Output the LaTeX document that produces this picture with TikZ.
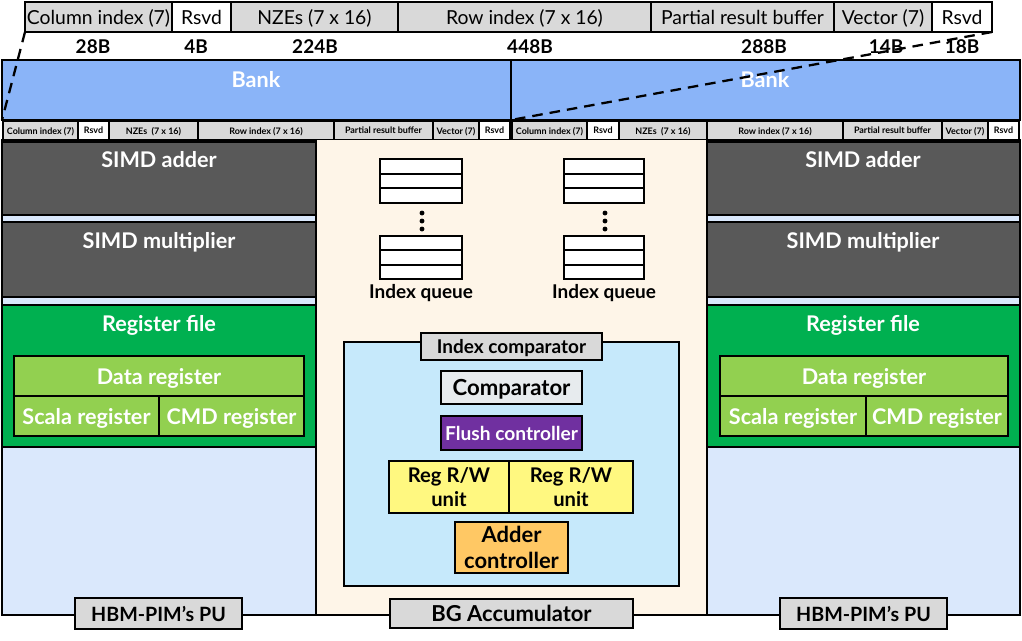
\documentclass[tikz,border=0pt]{standalone}
\usepackage{fontspec}
\setmainfont{Lato}

\definecolor{cellgray}{HTML}{D9D9D9}
\definecolor{bankblue}{HTML}{8AB4F8}
\definecolor{simdgray}{HTML}{595959}
\definecolor{publue}{HTML}{DAE8FC}
\definecolor{rfgreen}{HTML}{00B050}
\definecolor{reggreen}{HTML}{92D050}
\definecolor{accream}{HTML}{FEF5E8}
\definecolor{cmpblue}{HTML}{C6E9FB}
\definecolor{cmpgray}{HTML}{E7EBEE}
\definecolor{flushpurple}{HTML}{7030A0}
\definecolor{rwyellow}{HTML}{FFF880}
\definecolor{addorange}{HTML}{FFC864}

\tikzset{
  wh/.style 2 args = {minimum width={#1*0.02cm}, minimum height={#2*0.02cm}},
  box/.style = {draw=black, line width=1.1pt, inner sep=0pt, outer sep=0pt, anchor=north west, text depth=0pt},
  topcell/.style = {box, fill=cellgray, font=\fontsize{11}{13}\selectfont},
  smallcell/.style = {box, line width=0.8pt, fill=cellgray, font=\fontsize{5.1}{6}\selectfont\bfseries},
  bank/.style = {box, fill=bankblue},
  simd/.style = {box, fill=simdgray},
  whitetext/.style = {text=white, font=\fontsize{12.3}{14}\selectfont\bfseries},
  reg/.style = {box, fill=reggreen, text=white, font=\fontsize{12.3}{14}\selectfont\bfseries},
  lbl/.style = {box, fill=cellgray, font=\fontsize{11.2}{13}\selectfont\bfseries},
  darktext/.style = {font=\fontsize{10.8}{13}\selectfont\bfseries},
  inner/.style = {box, align=center, font=\fontsize{11.5}{14}\selectfont\bfseries},
  dashline/.style = {line width=1.3pt, dash pattern=on 6pt off 4pt}
}

\begin{document}
\begin{tikzpicture}[x=0.02cm, y=-0.02cm]
\useasboundingbox (0,0) rectangle (1022,640);

% record layout on top
\node[topcell, wh={147}{30}] (tcol) at (25,2) {Column index (7)};
\node[topcell, fill=white, wh={59}{30}] (trsvA) at (172,2) {Rsvd};
\node[topcell, wh={167}{30}] (tnze) at (231,2) {NZEs (7 x 16)};
\node[topcell, wh={253}{30}] (trow) at (398,2) {Row index (7 x 16)};
\node[topcell, wh={183}{30}] (tpart) at (651,2) {Partial result buffer};
\node[topcell, wh={98}{30}] (tvec) at (834,2) {Vector (7)};
\node[topcell, fill=white, wh={60}{30}] (trsvB) at (932,2) {Rsvd};

\node[darktext] (bcol) at (93,47) {28B};
\node[darktext] (brsvA) at (196,47) {4B};
\node[darktext] (bnze) at (315,47) {224B};
\node[darktext] (brow) at (530,47) {448B};
\node[darktext] (bpart) at (764,47) {288B};
\node[darktext] (bvec) at (886,47) {14B};
\node[darktext] (brsvB) at (962,47) {18B};

% banks
\node[bank, wh={509}{60}] (lbank) at (2,60) {};
\node[whitetext] (lbankt) at (256,80) {Bank};
\node[bank, wh={509}{60}] (rbank) at (511,60) {};
\node[whitetext] (rbankt) at (765,80) {Bank};

% small fields under the banks
\node[smallcell, wh={75}{19}] (lcol) at (3,121) {Column index (7)};
\node[smallcell, fill=white, wh={31}{19}] (lrsvA) at (78,121) {Rsvd};
\node[smallcell, wh={89}{19}] (lnze) at (109,121) {NZEs~ (7 x 16)};
\node[smallcell, wh={136}{19}] (lrow) at (198,121) {Row index (7 x 16)};
\node[smallcell, wh={99}{19}] (lpart) at (334,121) {Partial result buffer};
\node[smallcell, wh={46}{19}] (lvec) at (433,121) {Vector (7)};
\node[smallcell, fill=white, wh={31}{19}] (lrsvB) at (479,121) {Rsvd};

\node[smallcell, wh={75}{19}] (rcol) at (512,121) {Column index (7)};
\node[smallcell, fill=white, wh={32}{19}] (rrsvA) at (587,121) {Rsvd};
\node[smallcell, wh={88}{19}] (rnze) at (619,121) {NZEs~ (7 x 16)};
\node[smallcell, wh={136}{19}] (rrow) at (707,121) {Row index (7 x 16)};
\node[smallcell, wh={99}{19}] (rpart) at (843,121) {Partial result buffer};
\node[smallcell, wh={46}{19}] (rvec) at (942,121) {Vector (7)};
\node[smallcell, fill=white, wh={31}{19}] (rrsvB) at (988,121) {Rsvd};

% BG accumulator in the middle
\node[box, draw=none, fill=accream, wh={391}{475}] (acc) at (316,140) {};
\draw[line width=1.1pt] (2,615) -- (1020,615);

% left PU
\node[box, fill=publue, wh={314}{475}] (lpu) at (2,140) {};
\node[simd, wh={314}{73}] (ladd) at (2,142) {};
\node[whitetext] (laddt) at (159,160) {SIMD adder};
\node[simd, wh={314}{75}] (lmul) at (2,222) {};
\node[whitetext] (lmult) at (159,242) {SIMD multiplier};
\node[box, fill=rfgreen, wh={314}{142}] (lrf) at (2,305) {};
\node[whitetext] (lrft) at (159,325) {Register file};
\node[reg, wh={290}{40}] (ldata) at (14,356) {Data register};
\node[reg, wh={145}{40}] (lscala) at (14,396) {Scala register};
\node[reg, wh={145}{40}] (lcmd) at (159,396) {CMD register};
\node[lbl, wh={167}{31}] (lpul) at (75,598) {HBM-PIM's PU};

% right PU
\node[box, fill=publue, wh={313}{475}] (rpu) at (707,140) {};
\node[simd, wh={313}{73}] (radd) at (707,142) {};
\node[whitetext] (raddt) at (863,160) {SIMD adder};
\node[simd, wh={313}{75}] (rmul) at (707,222) {};
\node[whitetext] (rmult) at (863,242) {SIMD multiplier};
\node[box, fill=rfgreen, wh={313}{142}] (rrf) at (707,305) {};
\node[whitetext] (rrft) at (863,325) {Register file};
\node[reg, wh={288}{40}] (rdata) at (720,356) {Data register};
\node[reg, wh={146}{40}] (rscala) at (720,396) {Scala register};
\node[reg, wh={142}{40}] (rcmd) at (866,396) {CMD register};
\node[lbl, wh={167}{31}] (rpul) at (780,598) {HBM-PIM's PU};

% index queues
\draw[line width=1.1pt, fill=white] (380,159) rectangle (462,203);
\draw[line width=1.1pt] (380,173.7) -- (462,173.7) (380,188.3) -- (462,188.3);
\draw[line width=1.1pt, fill=white] (380,236) rectangle (462,279);
\draw[line width=1.1pt] (380,250.3) -- (462,250.3) (380,264.7) -- (462,264.7);
\fill (422,213) circle (1.4pt) (422,221) circle (1.4pt) (422,229) circle (1.4pt);
\node[darktext] (lqt) at (421,293) {Index queue};

\draw[line width=1.1pt, fill=white] (564,159) rectangle (644,203);
\draw[line width=1.1pt] (564,173.7) -- (644,173.7) (564,188.3) -- (644,188.3);
\draw[line width=1.1pt, fill=white] (564,236) rectangle (644,279);
\draw[line width=1.1pt] (564,250.3) -- (644,250.3) (564,264.7) -- (644,264.7);
\fill (605,213) circle (1.4pt) (605,221) circle (1.4pt) (605,229) circle (1.4pt);
\node[darktext] (rqt) at (604,293) {Index queue};

% index comparator
\node[box, fill=cmpblue, wh={335}{244}] (cmp) at (344,342) {};
\node[lbl, font=\fontsize{10.8}{13}\selectfont\bfseries, wh={181}{27}] (cmpl) at (421,333) {Index comparator};
\node[inner, fill=cmpgray, font=\fontsize{12.6}{15}\selectfont\bfseries, wh={141}{33}] (comp) at (441,371) {Comparator};
\node[inner, fill=flushpurple, text=white, font=\fontsize{10.9}{13}\selectfont\bfseries, wh={141}{34}] (flush) at (441,416) {Flush controller};
\node[inner, fill=rwyellow, wh={120}{52}] (rwA) at (389,461) {Reg R/W\\unit};
\node[inner, fill=rwyellow, wh={124}{52}] (rwB) at (509,461) {Reg R/W\\unit};
\node[inner, fill=addorange, font=\fontsize{12.5}{14.5}\selectfont\bfseries, wh={113}{51}] (addc) at (455,522) {Adder\\controller};
\node[lbl, font=\fontsize{12.5}{14}\selectfont\bfseries, wh={243}{29}] (bgl) at (390,599) {BG Accumulator};

% zoom lines from the banks to the record
\draw[dashline] (tcol.south west) -- (lbank.south west);
\draw[dashline] (trsvB.south east) -- (rbank.south west);
\end{tikzpicture}
\end{document}
